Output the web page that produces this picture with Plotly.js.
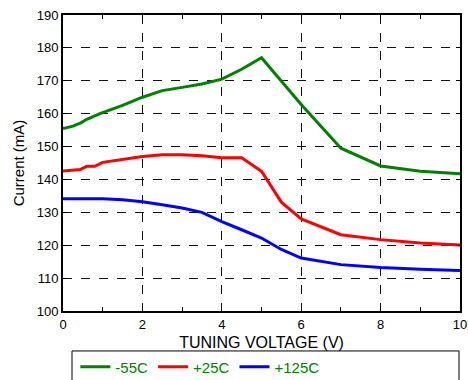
<!DOCTYPE html>
<html><head><meta charset="utf-8">
<script src="https://cdn.plot.ly/plotly-3.0.1.min.js"></script>
<style>html,body{margin:0;padding:0;background:#fff}#c{width:468px;height:380px}</style>
</head><body><div id="c"></div>
<script>
const seriesNames = ['-55C', '+25C', '+125C'];
const seriesColors = ['#008000', '#ff0000', '#0000ff'];
const vM55 = [0, 0.25, 0.45, 0.6, 0.93, 1.5, 2, 2.5, 3, 3.5, 4, 4.5, 5, 6, 7, 8, 9, 10];
const iM55 = [155.5, 156.2, 157.2, 158.3, 160, 162.5, 165, 167, 168, 169, 170.5, 173.5, 177, 162.8, 149.5, 144.1, 142.5, 141.7];
const v25 = [0, 0.3, 0.43, 0.6, 0.8, 1.0, 1.5, 2, 2.5, 3, 3.5, 4, 4.5, 5, 5.5, 6, 7, 8, 9, 10];
const i25 = [142.6, 143, 143, 144, 144, 145.2, 146, 147, 147.5, 147.5, 147.2, 146.6, 146.6, 142.5, 133.1, 128, 123.2, 121.7, 120.7, 120.1];
const v125 = [0, 1, 1.5, 2, 2.5, 3, 3.5, 4, 4.5, 5, 5.5, 6, 7, 8, 9, 10];
const i125 = [134.1, 134.1, 133.8, 133.2, 132.3, 131.3, 130, 127.2, 124.7, 122.2, 118.7, 116.1, 114.1, 113.2, 112.7, 112.3];
const xs = [vM55, v25, v125], ys = [iM55, i25, i125];
const traces = seriesNames.map((n, k) => ({
  x: xs[k], y: ys[k], name: n, type: 'scatter', mode: 'lines',
  line: {color: seriesColors[k], width: 3}
}));
const font = 'Liberation Sans, Arial, sans-serif';
const layout = {
  width: 468, height: 380,
  margin: {l: 63, r: 8, t: 15, b: 69, autoexpand: false},
  paper_bgcolor: '#fff', plot_bgcolor: '#fff',
  font: {family: font, size: 13, color: '#000'},
  showlegend: true,
  legend: {orientation: 'h', x: 0.161, xanchor: 'left', xref: 'container', y: 0.034, yanchor: 'middle', yref: 'container',
    font: {family: font, size: 15, color: '#008000'}, bgcolor: 'rgba(0,0,0,0)',
    itemwidth: 30, tracegroupgap: 0, traceorder: 'normal'},
  xaxis: {range: [0, 10], dtick: 2, tick0: 0, showgrid: true, gridcolor: '#111', griddash: 'dash', gridwidth: 1,
    zeroline: false, showline: true, linecolor: '#000', linewidth: 2, mirror: 'allticks',
    ticks: 'inside', ticklen: 4, tickcolor: '#000', tickfont: {size: 13},
    minor: {dtick: 1, ticks: 'inside', ticklen: 4, tickcolor: '#000', showgrid: false},
    title: {text: 'TUNING VOLTAGE (V)', font: {size: 16}, standoff: 9}},
  yaxis: {range: [100, 190], dtick: 10, showgrid: true, gridcolor: '#111', griddash: 'dash', gridwidth: 1,
    zeroline: false, showline: true, linecolor: '#000', linewidth: 2, mirror: 'allticks',
    ticks: 'inside', ticklen: 4, tickcolor: '#000', tickfont: {size: 13},
    title: {text: 'Current (mA)', font: {size: 15}, standoff: 8}},
  shapes: [{type: 'rect', xref: 'paper', yref: 'paper', x0: 0.0227, x1: 0.9975, y0: -0.135, y1: -0.4,
    line: {color: '#000', width: 1}, fillcolor: 'rgba(0,0,0,0)', layer: 'above'}]
};
Plotly.newPlot('c', traces, layout, {staticPlot: true, displayModeBar: false});
</script></body></html>
